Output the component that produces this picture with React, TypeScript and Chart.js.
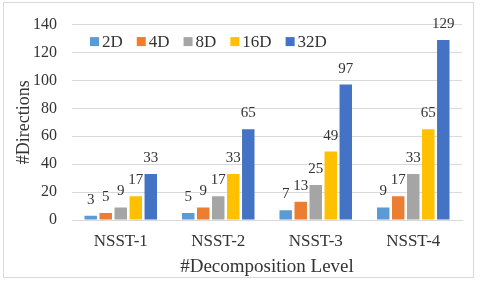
import React, { useEffect, useRef } from "react";
import { Chart, registerables } from "chart.js";

Chart.register(...registerables);

const categories = ["NSST-1", "NSST-2", "NSST-3", "NSST-4"];
const seriesNames = ["2D", "4D", "8D", "16D", "32D"];
const values2D = [3, 5, 7, 9];
const values4D = [5, 9, 13, 17];
const values8D = [9, 17, 25, 33];
const values16D = [17, 33, 49, 65];
const values32D = [33, 65, 97, 129];
const seriesColors = ["#5B9BD5", "#ED7D31", "#A5A5A5", "#FFC000", "#4472C4"];
const yTicks = [0, 20, 40, 60, 80, 100, 120, 140];

const FONT = '"Liberation Serif", "Times New Roman", serif';
const TEXT = "#333333";

const extrasPlugin = {
  id: "extras",
  afterDraw(chart: any) {
    const ctx = chart.ctx;
    ctx.save();
    // outer border
    ctx.strokeStyle = "#D9D9D9";
    ctx.lineWidth = 1;
    ctx.strokeRect(3.5, 2.5, 470, 275);
    // data labels
    ctx.fillStyle = TEXT;
    ctx.font = `15px ${FONT}`;
    ctx.textAlign = "center";
    ctx.textBaseline = "alphabetic";
    chart.data.datasets.forEach((ds: any, i: number) => {
      const meta = chart.getDatasetMeta(i);
      meta.data.forEach((el: any, j: number) => {
        ctx.fillText(String(ds.data[j]), el.x, el.y - 12);
      });
    });
    // legend
    const area = chart.chartArea;
    let x = area.left + 18;
    const yc = area.top + 17;
    ctx.font = `17px ${FONT}`;
    ctx.textAlign = "left";
    ctx.textBaseline = "middle";
    chart.data.datasets.forEach((ds: any) => {
      ctx.fillStyle = ds.backgroundColor;
      ctx.fillRect(x, yc - 4.5, 9, 9);
      x += 12;
      ctx.fillStyle = TEXT;
      ctx.fillText(ds.label, x, yc + 1);
      x += ctx.measureText(ds.label).width + 14;
    });
    ctx.restore();
  },
};

export default function App() {
  const ref = useRef<HTMLCanvasElement>(null);
  useEffect(() => {
    const allValues = [values2D, values4D, values8D, values16D, values32D];
    const chart = new Chart(ref.current as HTMLCanvasElement, {
      type: "bar",
      data: {
        labels: categories,
        datasets: seriesNames.map((name, i) => ({
          label: name,
          data: allValues[i],
          backgroundColor: seriesColors[i],
          barPercentage: 0.83,
          categoryPercentage: 0.77,
        })),
      },
      options: {
        responsive: false,
        animation: false,
        layout: { padding: { left: 5, right: 18, top: 17, bottom: 5 } },
        plugins: { legend: { display: false }, tooltip: { enabled: false } },
        scales: {
          x: {
            grid: { display: false, drawTicks: false },
            border: { display: true, color: "#D9D9D9" },
            ticks: { color: TEXT, font: { family: FONT, size: 17 }, padding: 11 },
            title: {
              display: true,
              text: "#Decomposition Level",
              color: TEXT,
              font: { family: FONT, size: 19 },
              padding: 0,
            },
            afterFit: (s: any) => {
              s.height = 58;
            },
          },
          y: {
            min: 0,
            max: 140,
            afterBuildTicks: (s: any) => {
              s.ticks = yTicks.map((v) => ({ value: v }));
            },
            grid: { color: "#D9D9D9", drawTicks: false },
            border: { display: false },
            ticks: { color: TEXT, font: { family: FONT, size: 16 }, padding: 15 },
            title: {
              display: true,
              text: "#Directions",
              color: TEXT,
              font: { family: FONT, size: 18 },
              padding: { top: 8, bottom: 0 },
            },
            afterFit: (s: any) => {
              s.width = 67;
            },
          },
        },
      },
      plugins: [extrasPlugin],
    });
    return () => chart.destroy();
  }, []);
  return (
    <div style={{ position: "fixed", left: 0, top: 0, width: 480, height: 283, background: "#fff" }}>
      <canvas ref={ref} width={480} height={283} />
    </div>
  );
}
